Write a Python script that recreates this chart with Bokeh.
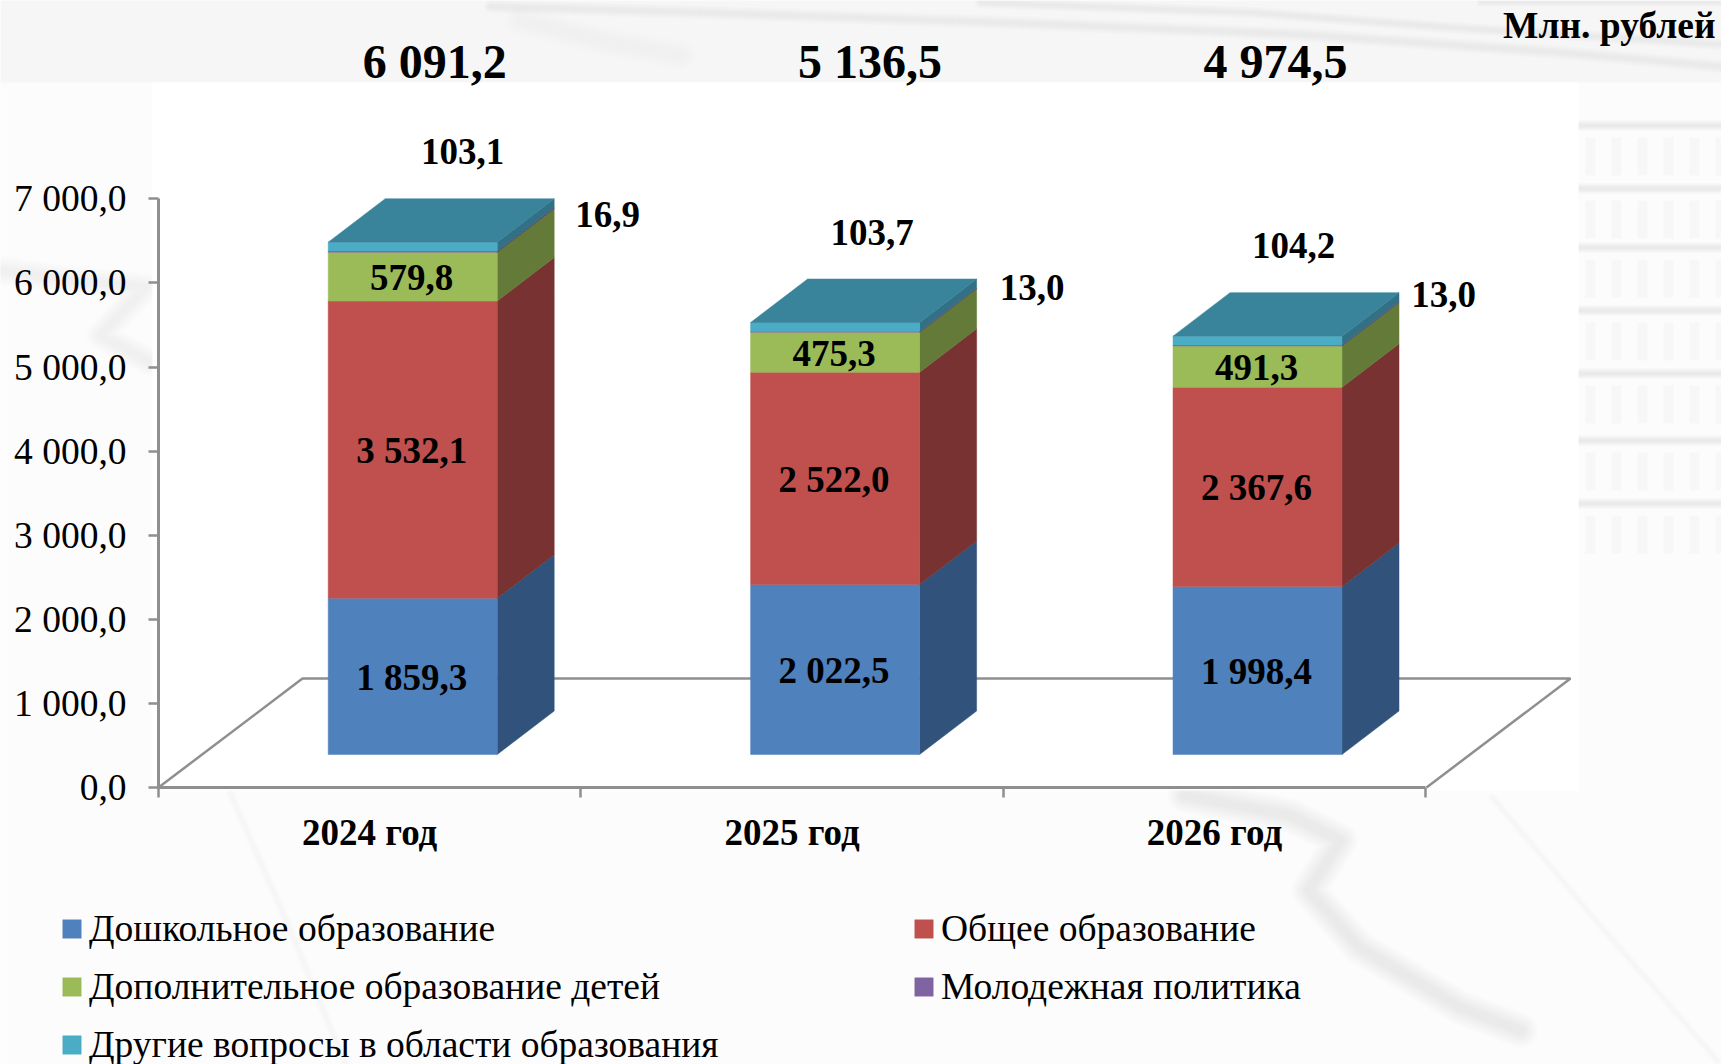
from bokeh.plotting import figure
from bokeh.embed import file_html
from bokeh.resources import INLINE
from bokeh.core.properties import value
from bokeh.models import (ColumnDataSource, Range1d, FixedTicker, Legend, LegendItem)

# ---------- data ----------
CATEGORIES = ["2024 год", "2025 год", "2026 год"]
DOSHKOLNOE = [1859.3, 2022.5, 1998.4]
OBSCHEE = [3532.1, 2522.0, 2367.6]
DOPOLNITELNOE = [579.8, 475.3, 491.3]
MOLODEZH = [16.9, 13.0, 13.0]
DRUGIE = [103.1, 103.7, 104.2]
TOTALS = ["6 091,2", "5 136,5", "4 974,5"]
LABELS_DOSH = ["1 859,3", "2 022,5", "1 998,4"]
LABELS_OBSCH = ["3 532,1", "2 522,0", "2 367,6"]
LABELS_DOP = ["579,8", "475,3", "491,3"]
LABELS_MOL = ["16,9", "13,0", "13,0"]
LABELS_DRUG = ["103,1", "103,7", "104,2"]
SERIES_NAMES = ["Дошкольное образование", "Общее образование", "Дополнительное образование детей",
                "Молодежная политика", "Другие вопросы в области образования"]
Y_TICKS = [0, 1000, 2000, 3000, 4000, 5000, 6000, 7000]
Y_TICK_LABELS = ["0,0", "1 000,0", "2 000,0", "3 000,0", "4 000,0", "5 000,0", "6 000,0", "7 000,0"]
UNIT = "Млн. рублей"

# ---------- styles / layout (page px) ----------
FRONT = ["#4F81BD", "#C0504D", "#9BBB59", "#8064A2", "#4BACC6"]
SIDE = ["#31527B", "#773231", "#647A39", "#53406B", "#317085"]
TOP = "#39849B"
FONT = "Liberation Serif"
W, H = 1721, 1064
LEFT, BOTTOM = 158, 787
SLOT_PX = 422.4
K = 0.0841           # px per value unit
xd = lambda px: (px - LEFT) / SLOT_PX
yd = lambda py: (BOTTOM - py) / K

p = figure(width=W, height=H, output_backend="svg", toolbar_location=None,
           x_range=Range1d(xd(0), xd(W)), y_range=Range1d(yd(H), yd(0)),
           min_border_left=0, min_border_right=0, min_border_top=0, min_border_bottom=0,
           background_fill_color="#fcfcfc", border_fill_color="#fcfcfc", outline_line_color=None)
p.grid.visible = False

# ---------- decorative backdrop (blurred streaks of the slide's picture) ----------
def streak(pts, width, grey="#8a8a8a", alpha=0.02):
    xs = [xd(a) for a, b in pts]
    ys = [yd(b) for a, b in pts]
    for f in (1.0, 0.85, 0.7, 0.55, 0.4, 0.25):
        p.line(xs, ys, line_color=grey, line_alpha=alpha, line_width=width * f,
               line_join="round", line_cap="round")

p.quad(left=[xd(0)], right=[xd(W)], top=[yd(0)], bottom=[yd(82)], fill_color="#f4f4f4", fill_alpha=0.7, line_color=None)
streak([(490, 6), (700, 12), (1000, 22), (1300, 34), (1560, 52), (1721, 66)], 14)
streak([(980, 2), (1250, 12), (1450, 27), (1721, 44)], 12)
streak([(520, 20), (600, 40), (680, 55)], 30, alpha=0.012)
streak([(1480, 2), (1721, 2)], 8)
streak([(0, 270), (60, 278), (145, 287), (100, 335), (150, 362)], 28, alpha=0.02)
streak([(1184, 795), (1290, 815), (1340, 840), (1308, 890), (1359, 947), (1460, 1007), (1520, 1030)], 34, alpha=0.024)
streak([(1492, 797), (1598, 923), (1717, 1060)], 9, alpha=0.008)
streak([(230, 793), (290, 930), (345, 1064)], 10, alpha=0.008)
for band in (125, 188, 247, 310, 373, 440, 503):
    streak([(1578, band), (1721, band)], 11, alpha=0.022)
    for st in range(1590, 1721, 26):
        p.line([xd(st), xd(st)], [yd(band + 12), yd(band + 50)], line_color="#9a9a9a",
               line_alpha=0.05, line_width=10)
p.quad(left=[xd(152)], right=[xd(1578)], top=[yd(82)], bottom=[yd(790)], fill_color="white", line_color=None)

# ---------- floor ----------
p.line([xd(158), xd(302), xd(1570), xd(1426)], [yd(787), yd(678), yd(678), yd(787)],
       line_color="#8f8f8f", line_width=2.5)

# ---------- 3D stacked bars ----------
BAR_W = 169 / SLOT_PX
BAR_SHIFT = 43 / SLOT_PX
DEPTH_X = 57 / SLOT_PX
DEPTH_Y = 43.5 / K
LIFT = 33 / K
stack = [DOSHKOLNOE, OBSCHEE, DOPOLNITELNOE, MOLODEZH, DRUGIE]
centers = [i + 0.5 + BAR_SHIFT for i in range(len(CATEGORIES))]
legend_items = []
base = [LIFT] * len(CATEGORIES)
mids = []
for s, vals in enumerate(stack):
    lo = base
    hi = [b + v for b, v in zip(base, vals)]
    mids.append([(a + b) / 2 for a, b in zip(lo, hi)])
    fx, fy, sx, sy = [], [], [], []
    for c, a, b in zip(centers, lo, hi):
        l, r = c - BAR_W / 2, c + BAR_W / 2
        fx.append([l, r, r, l]); fy.append([a, a, b, b])
        sx.append([r, r + DEPTH_X, r + DEPTH_X, r]); sy.append([a, a + DEPTH_Y, b + DEPTH_Y, b])
    p.patches(sx, sy, fill_color=SIDE[s], line_color=SIDE[s], line_width=0.5)
    rf = p.patches(fx, fy, fill_color=FRONT[s], line_color=FRONT[s], line_width=0.5)
    legend_items.append(LegendItem(label=SERIES_NAMES[s], renderers=[rf]))
    base = hi
tx, ty = [], []
for c, t in zip(centers, base):
    l, r = c - BAR_W / 2, c + BAR_W / 2
    tx.append([l, r, r + DEPTH_X, l + DEPTH_X]); ty.append([t, t, t + DEPTH_Y, t + DEPTH_Y])
p.patches(tx, ty, fill_color=TOP, line_color=TOP, line_width=0.5)

# ---------- data labels ----------
def put(xs, ys, texts, size, dx=None, dy=None, bold=True, align="center"):
    n = len(xs)
    src = ColumnDataSource(dict(x=xs, y=ys, t=texts, dx=dx or [0] * n, dy=dy or [0] * n))
    p.text("x", "y", text="t", source=src, x_offset="dx", y_offset="dy",
           text_font=value(FONT), text_font_size=value(f"{size}px"),
           text_font_style="bold" if bold else "normal", text_color="black",
           text_align=align, text_baseline="middle")

for m, labs in zip(mids[:3], [LABELS_DOSH, LABELS_OBSCH, LABELS_DOP]):
    put(centers, m, labs, 37, dx=[-1] * 3, dy=[1] * 3)
put(centers, base, LABELS_DRUG, 37, dx=[50, 37, 36], dy=[-91, -90, -91])
put(centers, base, LABELS_MOL, 37, dx=[195, 197, 186], dy=[-28, -35, -42])
put(centers, [yd(61)] * 3, TOTALS, 48, dx=[22, 35, 18])
put([xd(1715)], [yd(25)], [UNIT], 37.5, align="right")

# ---------- axes ----------
ya = p.yaxis[0]
ya.fixed_location = 0
ya.bounds = (0, 7000)
ya.ticker = FixedTicker(ticks=Y_TICKS)
ya.major_label_overrides = {t: l for t, l in zip(Y_TICKS, Y_TICK_LABELS)}
ya.major_label_text_font = FONT
ya.major_label_text_font_size = "37.5px"
ya.major_label_text_color = "black"
ya.major_label_standoff = 22
ya.major_tick_out = 10
ya.major_tick_in = 0
ya.minor_tick_out = 0
ya.minor_tick_in = 0
ya.axis_line_color = ya.major_tick_line_color = "#8f8f8f"
ya.axis_line_width = 3
ya.major_tick_line_width = 2.5

xa = p.xaxis[0]
xa.fixed_location = 0
slots = list(range(len(CATEGORIES) + 1))
mid_ticks = [i + 0.5 for i in range(len(CATEGORIES))]
xa.bounds = (0, len(CATEGORIES))
xa.ticker = FixedTicker(ticks=mid_ticks, minor_ticks=slots)
xa.major_label_overrides = {t: l for t, l in zip(mid_ticks, CATEGORIES)}
xa.major_label_text_font = FONT
xa.major_label_text_font_size = "37px"
xa.major_label_text_font_style = "bold"
xa.major_label_text_color = "black"
xa.major_label_standoff = 14
xa.major_tick_out = 0
xa.major_tick_in = 0
xa.minor_tick_out = 10
xa.minor_tick_in = 0
xa.axis_line_color = xa.minor_tick_line_color = "#8f8f8f"
xa.axis_line_width = 3
xa.minor_tick_line_width = 2.5

# ---------- legend ----------
lg = Legend(items=legend_items, ncols=2, orientation="horizontal", location=(60, -3),
            background_fill_alpha=0, border_line_color=None, margin=0, padding=0,
            label_text_font=FONT, label_text_font_size="37.5px", label_text_color="black",
            glyph_width=23, glyph_height=23, label_standoff=6, label_width=810, label_height=45,
            spacing=13, item_background_fill_alpha=0)
p.add_layout(lg, "center")

open("out.html", "w").write(file_html(p, INLINE))
